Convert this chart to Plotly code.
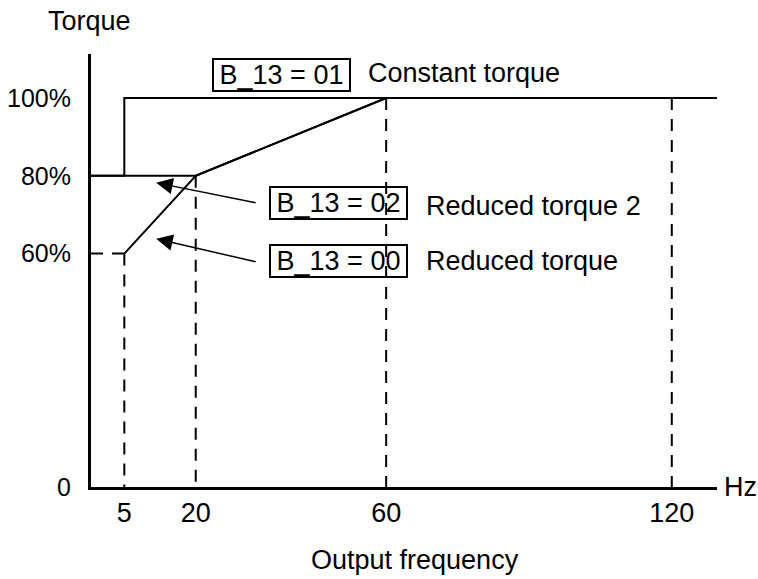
import plotly.graph_objects as go

# ---- data ----
x_ticks = [5, 20, 60, 120]
x_tick_labels = ["5", "20", "60", "120"]
y_ticks = [0, 60, 80, 100]
y_tick_labels = ["0", "60%", "80%", "100%"]

X_MIN, X_MAX = -2, 129.5
Y_MIN, Y_MAX = 0, 111.3

# B_13 = 01 constant torque
const_x = [X_MIN, 5, 5, X_MAX]
const_y = [80, 80, 100, 100]
# B_13 = 02 reduced torque 2
red2_x = [X_MIN, 20, 60, X_MAX]
red2_y = [80, 80, 100, 100]
# B_13 = 00 reduced torque
red0_x = [5, 20, 60, X_MAX]
red0_y = [60, 80, 100, 100]

# dashed guide lines
guide_h_x = [X_MIN, 5]
guide_h_y = [60, 60]
guide_v_x = [5, 20, 60, 120]
guide_v_top = [60, 80, 100, 100]

FONT = "Liberation Sans, Arial, Helvetica, sans-serif"
FS = 27

fig = go.Figure()

for xs, ys in [(const_x, const_y), (red2_x, red2_y), (red0_x, red0_y)]:
    fig.add_trace(go.Scatter(x=xs, y=ys, mode="lines",
                             line=dict(color="black", width=2),
                             hoverinfo="skip", showlegend=False))

dash = "12px,9px"
fig.add_trace(go.Scatter(x=guide_h_x, y=guide_h_y, mode="lines",
                         line=dict(color="black", width=2, dash=dash),
                         hoverinfo="skip", showlegend=False))
for xv, top in zip(guide_v_x, guide_v_top):
    fig.add_trace(go.Scatter(x=[xv, xv], y=[top, 0], mode="lines",
                             line=dict(color="black", width=2, dash=dash),
                             hoverinfo="skip", showlegend=False))

annotations = []
# boxed labels
for text, bx, by in [("B_13 = 01", 38.0, 106.0),
                     ("B_13 = 02", 49.9, 72.9),
                     ("B_13 = 00", 49.9, 58.2)]:
    annotations.append(dict(x=bx, y=by, xref="x", yref="y", text=text,
                            showarrow=False, bordercolor="black", borderwidth=2,
                            borderpad=0, width=135, height=30,
                            font=dict(family=FONT, size=FS, color="black"),
                            xanchor="center", yanchor="middle"))
# descriptions
for text, tx, ty in [("Constant torque", 55.8, 106.4),
                     ("Reduced torque 2", 67.9, 72.2),
                     ("Reduced torque", 67.9, 58.1)]:
    annotations.append(dict(x=tx, y=ty, xref="x", yref="y", text=text,
                            showarrow=False, xanchor="left", yanchor="middle",
                            font=dict(family=FONT, size=FS, color="black")))
# arrows
for (tipx, tipy), (tailx, taily) in [((11.7, 78.2), (32.9, 73.0)),
                                      ((11.7, 63.8), (32.9, 57.8))]:
    annotations.append(dict(x=tipx, y=tipy, ax=tailx, ay=taily,
                            xref="x", yref="y", axref="x", ayref="y",
                            text="", showarrow=True, arrowhead=2,
                            arrowsize=2.2, arrowwidth=1.5, arrowcolor="black"))
# axis titles
annotations.append(dict(x=-0.0016, y=1.076, xref="paper", yref="paper",
                        text="Torque", showarrow=False,
                        xanchor="center", yanchor="middle",
                        font=dict(family=FONT, size=FS, color="black")))
annotations.append(dict(x=1.0085, y=0.0, xref="paper", yref="paper",
                        text="Hz", showarrow=False, xanchor="left", yanchor="middle",
                        font=dict(family=FONT, size=FS, color="black")))
annotations.append(dict(x=0.518, y=-0.168, xref="paper", yref="paper",
                        text="Output frequency", showarrow=False,
                        xanchor="center", yanchor="middle",
                        font=dict(family=FONT, size=FS, color="black")))

fig.update_layout(
    width=758, height=579,
    margin=dict(l=91, r=41, t=54, b=92, autoexpand=False),
    paper_bgcolor="white", plot_bgcolor="white",
    showlegend=False,
    annotations=annotations,
    xaxis=dict(range=[X_MIN, X_MAX], showgrid=False, zeroline=False,
               showline=True, linecolor="black", linewidth=3,
               tickmode="array", tickvals=x_ticks, ticktext=x_tick_labels,
               ticks="", ticklabelstandoff=0, automargin=False,
               tickfont=dict(family=FONT, size=FS, color="black"),
               fixedrange=True),
    yaxis=dict(range=[Y_MIN, Y_MAX], showgrid=False, zeroline=False,
               showline=True, linecolor="black", linewidth=3,
               tickmode="array", tickvals=y_ticks, ticktext=y_tick_labels,
               ticks="", ticklabelstandoff=12, automargin=False,
               tickfont=dict(family=FONT, size=25, color="black"),
               fixedrange=True),
)

fig.write_html("out.html", config={"displayModeBar": False},
               post_script="document.body.style.margin='0';")
